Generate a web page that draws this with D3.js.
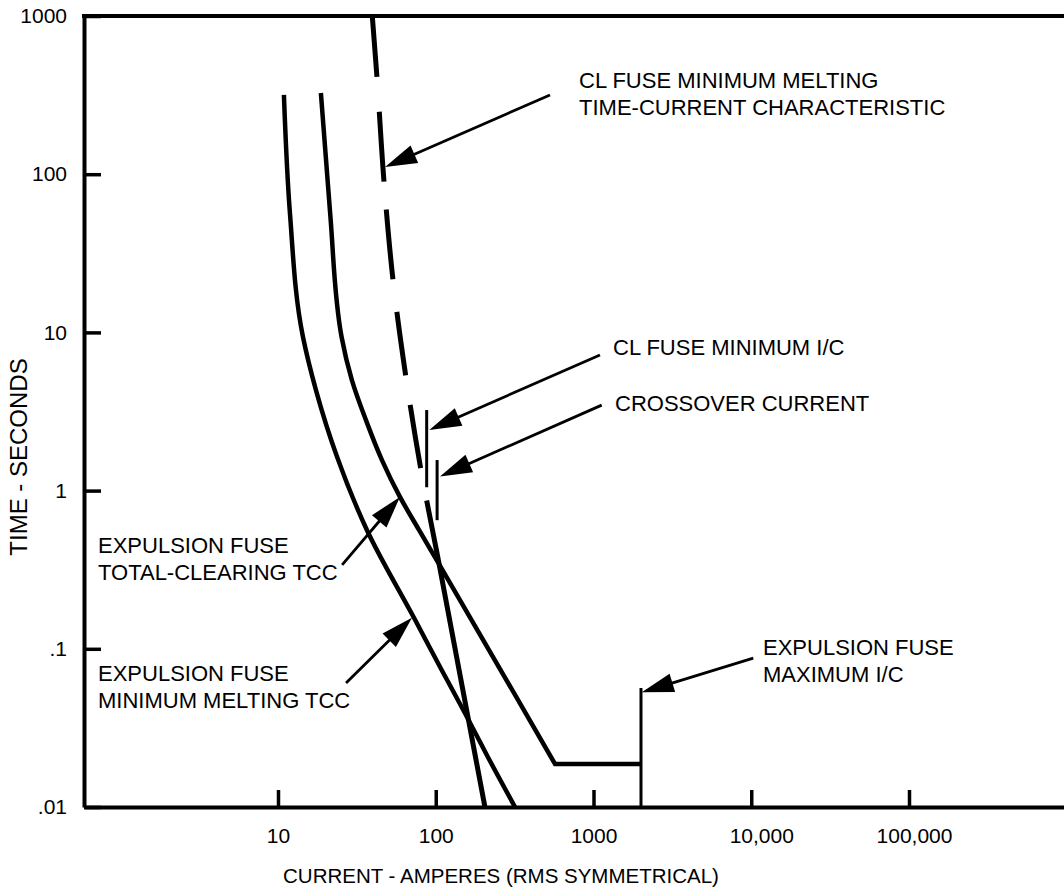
<!DOCTYPE html>
<html>
<head>
<meta charset="utf-8">
<style>
  body { margin: 0; background: #fff; }
  svg { display: block; background: #fff; }
  text { font-family: "Liberation Sans", Arial, sans-serif; fill: #000; }
</style>
</head>
<body>
<div id="chart"></div>
<script src="https://d3js.org/d3.v7.min.js"></script>
<script>
// axis ticks
var currentTicks = [10, 100, 1000, 10000, 100000];
var currentTickLabels = ["10", "100", "1000", "10,000", "100,000"];
var timeTicks = [1000, 100, 10, 1, 0.1, 0.01];
var timeTickLabels = ["1000", "100", "10", "1", ".1", ".01"];

// expulsion fuse minimum melting TCC (amperes, seconds)
var mmCurrent = [10.9, 11.9, 14.4, 17.4, 23.7, 36.6, 72.8, 109, 153, 214, 318];
var mmTime    = [317, 56.9, 9.35, 4.32, 1.63, 0.564, 0.157, 0.0735, 0.0393, 0.0207, 0.01];

// expulsion fuse total-clearing TCC, ends on a flat plateau up to max I/C
var tcCurrent = [18.7, 21.4, 25.3, 29.4, 36.1, 45.6, 59.3, 78.3, 105.6, 313, 570, 2000];
var tcTime    = [326, 56.9, 9.35, 5.0, 2.79, 1.56, 0.912, 0.564, 0.339, 0.0526, 0.0187, 0.0187];

// current-limiting fuse minimum melting characteristic
var clCurrent = [39.6, 42.4, 47, 53.6, 64.7, 80.6, 103, 205];
var clTime    = [1000, 411, 89.3, 21.4, 5.22, 1.35, 0.38, 0.01];

// interrupting-current markers: CL min I/C, crossover, expulsion max I/C
var icCurrent = [87.6, 102, 2000];
var icTop     = [3.23, 1.56, 0.0565];
var icBottom  = [1.05, 0.65, 0.01];

// annotation texts
var notes = [
  ["CL FUSE MINIMUM MELTING", "TIME-CURRENT CHARACTERISTIC"],
  ["CL FUSE MINIMUM I/C"],
  ["CROSSOVER CURRENT"],
  ["EXPULSION FUSE", "TOTAL-CLEARING TCC"],
  ["EXPULSION FUSE", "MINIMUM MELTING TCC"],
  ["EXPULSION FUSE", "MAXIMUM I/C"]
];
// arrow tail / tip in data units [amps, seconds]
var arrowTail = [[530, 317], [1099, 7.2], [1127, 3.47], [25.5, 0.339], [27, 0.0608], [10300, 0.0873]];
var arrowTip  = [[47.7, 111], [91, 2.42], [106.4, 1.23], [59.3, 0.912], [70.7, 0.157], [2023, 0.0531]];

var W = 1064, H = 888;
var svg = d3.select('#chart').append('svg')
            .attr('width', W)
            .attr('height', H);

// decades are square: 10 A sits at 278px, 100,000 A at 909px
var x = d3.scaleLog().domain([10, 100000]).range([278, 909]);
x.domain([x.invert(84), x.invert(1064)]).range([84, 1064]);
var y = d3.scaleLog().domain([1000, 0.01]).range([16, 807]);

// axes
var yAxis = d3.axisLeft(y)
              .tickValues(timeTicks)
              .tickSize(-17)
              .tickSizeOuter(0)
              .tickPadding(17)
              .tickFormat(function(d, i) { return timeTickLabels[i]; });
var gy = svg.append('g').attr('transform', 'translate(84,0)').call(yAxis);

var xAxis = d3.axisBottom(x)
              .tickValues(currentTicks)
              .tickSize(-17)
              .tickSizeOuter(0)
              .tickPadding(21)
              .tickFormat(function(d, i) { return currentTickLabels[i]; });
var gx = svg.append('g').attr('transform', 'translate(0,807)').call(xAxis);

[gx, gy].forEach(function(g) {
  g.select('.domain').attr('stroke', '#000').attr('stroke-width', 4);
  g.selectAll('.tick line').attr('stroke', '#000').attr('stroke-width', 3.5);
  g.selectAll('.tick text').attr('font-size', 21).attr('fill', '#000')
   .style('font-family', '"Liberation Sans", Arial, sans-serif');
});
// the comma labels sit a little right of their ticks in the original
var labelShift = [0, 0, 0, 10, 5];
gx.selectAll('.tick text').attr('dx', function(d, i) { return labelShift[i]; });

// top frame line
svg.append('line')
   .attr('x1', x.range()[0] - 2).attr('x2', x.range()[1])
   .attr('y1', y(1000)).attr('y2', y(1000))
   .attr('stroke', '#000').attr('stroke-width', 4);

// axis titles
svg.append('text')
   .attr('x', 501).attr('y', 883)
   .attr('text-anchor', 'middle')
   .attr('font-size', 20.5)
   .text('CURRENT - AMPERES (RMS SYMMETRICAL)');

svg.append('text')
   .attr('transform', 'translate(27,457) rotate(-90)')
   .attr('text-anchor', 'middle')
   .attr('font-size', 24)
   .text('TIME - SECONDS');

// curves
var smooth = d3.line()
               .x(function(d) { return x(d[0]); })
               .y(function(d) { return y(d[1]); })
               .curve(d3.curveMonotoneY);

var mm = d3.zip(mmCurrent, mmTime);
var tc = d3.zip(tcCurrent, tcTime);
var cl = d3.zip(clCurrent, clTime);

svg.append('path')
   .attr('d', smooth(mm))
   .attr('fill', 'none').attr('stroke', '#000').attr('stroke-width', 4.5);

var tcLast = tc[tc.length - 1];
svg.append('path')
   .attr('d', smooth(tc.slice(0, -1)) + 'L' + x(tcLast[0]) + ',' + y(tcLast[1]))
   .attr('fill', 'none').attr('stroke', '#000').attr('stroke-width', 4.5)
   .attr('stroke-linejoin', 'miter');

svg.append('path')
   .attr('d', smooth(cl))
   .attr('fill', 'none').attr('stroke', '#000').attr('stroke-width', 5)
   .attr('stroke-dasharray', '61 35 70 28 70 33 64 30 64 33 2000');

// interrupting current markers
svg.selectAll('.ic')
   .data(icCurrent)
   .enter().append('line')
   .attr('class', 'ic')
   .attr('x1', function(d) { return x(d); })
   .attr('x2', function(d) { return x(d); })
   .attr('y1', function(d, i) { return y(icTop[i]); })
   .attr('y2', function(d, i) { return y(icBottom[i]); })
   .attr('stroke', '#000').attr('stroke-width', 3);

// arrows
function arrow(tail, tip) {
  var x0 = x(tail[0]), y0 = y(tail[1]);
  var x1 = x(tip[0]), y1 = y(tip[1]);
  var dx = x1 - x0, dy = y1 - y0;
  var len = Math.sqrt(dx * dx + dy * dy);
  var ux = dx / len, uy = dy / len;
  var L = 32, w = 9.5;
  var bx = x1 - ux * L, by = y1 - uy * L;
  svg.append('line')
     .attr('x1', x0).attr('y1', y0)
     .attr('x2', bx + ux * 3).attr('y2', by + uy * 3)
     .attr('stroke', '#000').attr('stroke-width', 2.8);
  svg.append('path')
     .attr('d', 'M' + x1 + ',' + y1 +
                'L' + (bx - uy * w) + ',' + (by + ux * w) +
                'L' + (bx + uy * w) + ',' + (by - ux * w) + 'Z')
     .attr('fill', '#000');
}
arrowTail.forEach(function(t, i) { arrow(t, arrowTip[i]); });

// note labels: left x and first baseline
var notePos = [[579, 88], [613, 355], [615, 411], [98, 553], [98, 681], [763, 655]];
notes.forEach(function(lines, i) {
  var t = svg.append('text')
             .attr('x', notePos[i][0])
             .attr('y', notePos[i][1])
             .attr('font-size', 22);
  lines.forEach(function(s, j) {
    t.append('tspan')
     .attr('x', notePos[i][0])
     .attr('dy', j === 0 ? 0 : 26.5)
     .text(s);
  });
});
</script>
</body>
</html>
